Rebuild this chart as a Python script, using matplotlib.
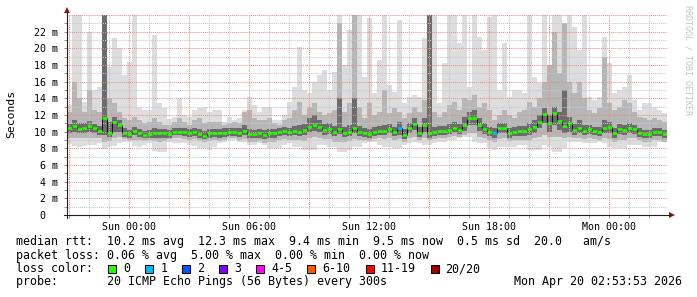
import numpy as np
import matplotlib
matplotlib.use("Agg")
import matplotlib.pyplot as plt
from matplotlib.lines import Line2D
from matplotlib.patches import Polygon, Rectangle

W, H = 697, 297
MONO = "DejaVu Sans Mono"

# hours relative to Sun 00:00, one sample every 15 min
t_start = -3.075
step = 0.25

med = [10.4, 10.7, 10.3, 10.5, 10.7, 10.4, 10.1, 11.6, 9.9, 11.2,
       10.8, 9.8, 9.7, 10.1, 9.8, 9.6, 9.7, 9.8, 9.8, 9.8,
       9.7, 10.0, 10.0, 10.0, 9.8, 10.0, 9.7, 9.5, 9.8, 9.8,
       9.8, 9.9, 10.0, 10.0, 9.9, 10.1, 9.7, 9.7, 9.8, 9.6,
       9.8, 9.8, 10.0, 10.1, 10.0, 10.1, 10.0, 10.2, 10.6, 10.8,
       10.6, 10.2, 10.3, 10.0, 10.3, 9.9, 10.0, 10.5, 10.0, 9.9,
       9.7, 10.0, 10.1, 10.1, 10.3, 10.0, 10.4, 9.6, 10.4, 10.9,
       9.9, 10.8, 9.8, 10.0, 10.1, 10.1, 10.2, 10.5, 10.2, 10.8,
       11.6, 11.7, 10.8, 10.3, 10.0, 9.8, 10.4, 10.4, 9.8, 10.0,
       10.1, 10.1, 10.3, 10.6, 11.2, 12.1, 11.0, 12.2, 11.3, 10.7,
       11.0, 10.2, 10.4, 10.1, 10.3, 10.1, 10.0, 10.5, 10.6, 9.8,
       10.3, 10.2, 10.4, 10.3, 9.9, 9.7, 9.7, 10.0, 10.0, 9.7]

# lightest smoke (max / min ping)
top = [13.2, 24, 24, 13.6, 22.0, 15.0, 15.4, 24, 17.8, 21.2,
       20.0, 16.8, 18.4, 24, 13.0, 12.6, 12.6, 21.6, 13.4, 12.8,
       11.5, 11.8, 14.0, 12.0, 11.8, 12.6, 12.8, 13.0, 12.4, 12.6,
       12.6, 11.2, 11.8, 11.4, 11.6, 12.6, 14.2, 13.2, 12.4, 13.0,
       13.0, 11.4, 11.4, 12.0, 13.6, 15.4, 20.2, 15.0, 14.6, 16.0,
       16.8, 17.4, 15.0, 17.2, 24, 18.0, 22.2, 24, 24, 16.6,
       23.6, 14.6, 18.6, 24, 15.6, 14.8, 23.4, 13.4, 14.2, 14.4,
       14.2, 21.2, 24, 24, 13.4, 18.2, 24, 24, 20.6, 24,
       15.4, 24, 21.4, 19.8, 23.8, 24, 15.0, 20.6, 14.2, 15.0,
       15.0, 14.6, 24, 16.6, 15.8, 24, 17.4, 24, 24, 22.2,
       24, 22.6, 19.8, 24, 14.2, 13.8, 14.2, 21.4, 18.2, 14.6,
       15.0, 15.4, 16.8, 13.8, 12.6, 13.4, 13.4, 13.0, 12.6, 12.2]
bot = [8.5, 8.3, 8.2, 8.3, 8.4, 8.4, 8.6, 7.9, 8.2, 8.3,
       8.6, 8.8, 8.8, 8.3, 8.2, 8.4, 8.6, 7.7, 7.6, 7.6,
       8.8, 8.6, 8.6, 8.6, 8.4, 8.3, 8.0, 8.0, 7.8, 8.2,
       8.6, 8.8, 9.0, 9.0, 8.8, 8.8, 8.4, 8.4, 8.6, 8.4,
       8.0, 8.0, 8.0, 8.4, 8.6, 8.2, 8.2, 7.8, 7.8, 7.8,
       8.4, 8.4, 8.2, 8.2, 7.6, 7.6, 7.8, 8.2, 8.2, 8.6,
       8.8, 8.8, 8.4, 8.2, 8.2, 8.0, 8.0, 8.4, 8.6, 8.8,
       8.6, 8.4, 8.4, 8.6, 8.8, 8.8, 9.0, 9.0, 9.2, 9.4,
       9.4, 8.8, 8.6, 8.6, 8.0, 7.8, 8.2, 8.2, 8.2, 8.2,
       8.4, 8.4, 7.8, 7.8, 7.8, 8.4, 8.2, 7.6, 7.6, 8.0,
       8.8, 8.8, 8.8, 8.6, 8.6, 8.6, 8.8, 8.6, 8.2, 8.0,
       8.0, 8.0, 8.4, 8.4, 8.4, 8.2, 8.2, 8.2, 8.8, 8.8]

# middle smoke
mid_hi = [12.4, 16.0, 14.0, 12.4, 15.0, 12.6, 12.4, 24, 14.0, 13.5,
          12.4, 11.6, 11.4, 11.8, 11.4, 11.0, 11.2, 11.6, 11.2, 10.8,
          10.8, 11.2, 11.6, 11.2, 10.8, 11.4, 11.6, 11.0, 11.2, 11.2,
          11.2, 10.8, 11.0, 11.2, 11.0, 12.4, 12.6, 11.6, 11.4, 11.4,
          11.6, 11.0, 10.8, 11.4, 11.6, 12.6, 13.6, 12.0, 13.0, 13.4,
          12.4, 12.0, 12.2, 12.6, 23.0, 12.4, 13.4, 24, 13.0, 11.6,
          13.4, 12.0, 12.4, 15.0, 12.2, 12.8, 12.4, 11.6, 12.2, 13.0,
          12.4, 13.8, 24, 12.4, 11.8, 12.4, 13.2, 13.6, 12.6, 14.0,
          13.8, 14.4, 13.0, 13.4, 12.6, 11.4, 12.0, 12.6, 12.0, 11.6,
          12.4, 12.6, 13.6, 13.0, 14.0, 16.0, 18.0, 22.0, 17.0, 23.0,
          16.0, 14.6, 16.0, 14.0, 12.6, 12.2, 12.8, 19.0, 13.4, 12.6,
          13.0, 13.8, 13.4, 12.4, 11.8, 11.6, 11.4, 11.6, 11.4, 11.2]
mid_lo = [9.2, 9.3, 9.2, 9.3, 9.3, 9.3, 9.2, 8.8, 8.9, 9.2,
          9.4, 9.1, 9.0, 9.0, 9.0, 8.9, 9.0, 8.9, 8.8, 8.9,
          9.1, 9.2, 9.2, 9.1, 9.0, 9.1, 8.9, 8.8, 8.9, 9.0,
          8.9, 9.0, 9.2, 9.2, 9.0, 9.1, 8.8, 8.8, 8.9, 8.7,
          8.8, 8.8, 9.0, 9.1, 9.0, 9.0, 9.0, 8.9, 9.2, 9.4,
          9.3, 9.1, 9.1, 8.8, 8.8, 8.8, 8.9, 9.1, 9.0, 9.0,
          8.9, 9.1, 9.2, 9.1, 9.2, 9.0, 9.1, 8.8, 9.2, 9.4,
          9.0, 9.3, 9.0, 9.1, 9.2, 9.2, 9.4, 9.5, 9.4, 9.6,
          9.9, 9.8, 9.4, 9.2, 9.0, 8.8, 9.1, 9.2, 8.9, 9.0,
          9.0, 9.0, 9.0, 9.2, 9.4, 9.6, 9.4, 9.4, 9.4, 9.2,
          9.4, 9.2, 9.2, 9.1, 9.2, 9.1, 9.0, 9.2, 9.1, 8.8,
          9.0, 9.0, 9.2, 9.2, 9.0, 8.8, 8.8, 9.0, 9.0, 8.8]

# darkest smoke, close to the median
dark_hi = [10.9, 11.4, 11.0, 11.0, 11.3, 10.9, 10.7, 24, 11.2, 11.8,
           11.4, 10.4, 10.2, 10.6, 10.3, 10.1, 10.2, 10.4, 10.3, 10.3,
           10.2, 10.5, 10.5, 10.5, 10.3, 10.5, 10.3, 10.1, 10.3, 10.3,
           10.3, 10.4, 10.5, 10.5, 10.4, 10.8, 10.3, 10.2, 10.3, 10.2,
           10.3, 10.3, 10.5, 10.6, 10.5, 10.7, 10.8, 10.9, 11.6, 12.0,
           11.4, 10.9, 11.0, 10.7, 14.0, 10.6, 10.8, 14.0, 10.7, 10.4,
           10.3, 10.6, 10.7, 10.8, 10.9, 10.6, 11.2, 10.3, 11.0, 11.6,
           10.6, 11.6, 24, 10.6, 10.7, 10.7, 10.9, 11.2, 10.9, 11.8,
           12.4, 12.6, 11.6, 11.0, 10.6, 10.4, 11.0, 11.0, 10.4, 10.6,
           10.7, 10.7, 11.0, 11.4, 12.0, 12.8, 12.0, 13.0, 12.4, 15.0,
           11.8, 10.9, 11.4, 10.8, 10.8, 10.6, 10.6, 11.4, 11.2, 10.4,
           10.9, 10.8, 11.0, 10.8, 10.4, 10.2, 10.2, 10.5, 10.4, 10.2]
dark_lo = [9.8, 10.0, 9.8, 9.9, 10.0, 9.8, 9.6, 9.6, 9.4, 10.0,
           10.0, 9.4, 9.3, 9.6, 9.4, 9.2, 9.3, 9.3, 9.3, 9.3,
           9.3, 9.6, 9.6, 9.5, 9.4, 9.5, 9.3, 9.1, 9.3, 9.4,
           9.3, 9.4, 9.5, 9.5, 9.4, 9.6, 9.2, 9.2, 9.3, 9.1,
           9.3, 9.3, 9.5, 9.6, 9.5, 9.6, 9.5, 9.6, 10.0, 10.1,
           10.0, 9.6, 9.7, 9.5, 9.7, 9.4, 9.5, 9.8, 9.5, 9.4,
           9.2, 9.5, 9.6, 9.6, 9.8, 9.5, 9.6, 9.1, 9.8, 10.2,
           9.4, 10.0, 9.3, 9.5, 9.6, 9.6, 9.7, 10.0, 9.7, 10.1,
           10.8, 10.8, 10.1, 9.7, 9.5, 9.2, 9.8, 9.8, 9.3, 9.5,
           9.5, 9.5, 9.6, 9.9, 10.4, 11.0, 10.0, 10.8, 10.2, 9.8,
           10.0, 9.6, 9.8, 9.6, 9.7, 9.6, 9.5, 9.9, 9.9, 9.3,
           9.7, 9.6, 9.8, 9.7, 9.4, 9.2, 9.2, 9.5, 9.5, 9.2]

# samples with packet loss (index, lost pings)
loss_idx = [66, 85]
loss_cnt = [1, 1]

loss_names = ["0", "1", "2", "3", "4-5", "6-10", "11-19", "20/20"]
loss_colors = ["#26ff00", "#00b8ff", "#0059ff", "#7e00ff",
               "#ff00ff", "#ff5500", "#ff0000", "#a10000"]

xtick_pos = [0, 6, 12, 18, 24]
xtick_lab = ["Sun 00:00", "Sun 06:00", "Sun 12:00", "Sun 18:00", "Mon 00:00"]
ytick_pos = list(range(0, 24, 2))

for arr in (med, top, bot, mid_hi, mid_lo, dark_hi, dark_lo):
    assert len(arr) == 120, len(arr)


def fx(x):
    return x / W


def fy(y):
    return 1 - y / H


fig = plt.figure(figsize=(W / 100, H / 100), dpi=100)
fig.patch.set_facecolor("white")
ax = fig.add_axes([fx(67), fy(215), 600 / W, 200 / H])
ax.set_facecolor("white")

n = len(med)
edges = t_start + step * np.arange(n + 1)


def ext(a):
    a = np.asarray(a, float)
    return np.append(a, a[-1])


ax.fill_between(edges, ext(bot), ext(top), step="post", color="#dddddd", lw=0, zorder=1)
ax.fill_between(edges, ext(mid_lo), ext(mid_hi), step="post", color="#b6b6b6", lw=0, zorder=1.1)
ax.fill_between(edges, ext(dark_lo), ext(dark_hi), step="post", color="#6c6c6c", lw=0, zorder=1.2)

# median: black connecting line + loss-coloured segments
ax.step(edges, ext(med), where="post", color="#101010", lw=0.7, zorder=3)
seg_col = [loss_colors[0]] * n
for i, c in zip(loss_idx, loss_cnt):
    seg_col[i] = loss_colors[c]
ax.hlines(med, edges[:-1], edges[1:], colors=seg_col, lw=1.8, zorder=4)

ax.set_xlim(t_start, t_start + 30)
ax.set_ylim(0, 24)

# grid drawn on top of the smoke like rrdtool does
dot = (0, (1, 1))
for h in np.arange(-3, 27, 1):
    if h <= t_start:
        continue
    major = (h % 3 == 0)
    ax.axvline(h, color="#e89090" if major else "#c8c8c8", lw=0.75, ls=dot, zorder=2)
for v in range(1, 25):
    major = (v % 2 == 0)
    ax.axhline(v, color="#e89090" if major else "#c8c8c8", lw=0.75, ls=dot, zorder=2)

for s in ax.spines.values():
    s.set_visible(False)

ax.set_xticks(xtick_pos)
ax.set_xticklabels(xtick_lab, fontfamily=MONO, fontsize=7.2)
ax.set_xticks(np.arange(-3, 27, 1), minor=True)
ax.set_yticks(ytick_pos)
ax.set_yticklabels(["0  "] + [f"{v} m" for v in ytick_pos[1:]], fontfamily=MONO, fontsize=7.2)
ax.set_yticks(range(1, 24, 2), minor=True)
ax.tick_params(axis="both", which="both", length=2.2, width=0.7, color="#909090",
               direction="out", pad=4)
ax.tick_params(axis="x", which="major", pad=3)

# axes with arrows
axis_col = "#202020"
arrow_col = "#8b1a1a"
fig.add_artist(Line2D([fx(67), fx(67)], [fy(218), fy(12)], color=axis_col, lw=0.8))
fig.add_artist(Line2D([fx(64), fx(671)], [fy(215), fy(215)], color=axis_col, lw=0.8))
fig.add_artist(Polygon([(fx(64), fy(13)), (fx(70), fy(13)), (fx(67), fy(7))],
                       closed=True, color=arrow_col, lw=0))
fig.add_artist(Polygon([(fx(669), fy(212)), (fx(669), fy(218)), (fx(675), fy(215))],
                       closed=True, color=arrow_col, lw=0))

fig.text(fx(11), fy(114), "Seconds", rotation=90, ha="center", va="center",
         fontfamily=MONO, fontsize=8.2)
fig.text(fx(688), fy(5), "RRDTOOL / TOBI OETIKER", rotation=270, ha="center", va="top",
         fontfamily=MONO, fontsize=6, color="#c4c4c4")

# legend block
fs = 8.4
cw = 7.02
fig.text(fx(16), fy(241), "median rtt:  10.2 ms avg  12.3 ms max  9.4 ms min  9.5 ms now  0.5 ms sd  20.0   am/s",
         fontfamily=MONO, fontsize=fs, va="center")
fig.text(fx(16), fy(255.5), "packet loss: 0.06 % avg  5.00 % max  0.00 % min  0.00 % now",
         fontfamily=MONO, fontsize=fs, va="center")
fig.text(fx(16), fy(268.5), "loss color:", fontfamily=MONO, fontsize=fs, va="center")
bx = 108.3
for name, col in zip(loss_names, loss_colors):
    fig.add_artist(Rectangle((fx(bx), fy(272.5)), 8 / W, 8 / H, facecolor=col,
                             edgecolor="black", lw=0.7))
    fig.text(fx(bx + 15), fy(268.5), name, fontfamily=MONO, fontsize=fs, va="center")
    bx += 16 + cw * len(name) + 14
fig.text(fx(16), fy(282), "probe:       20 ICMP Echo Pings (56 Bytes) every 300s",
         fontfamily=MONO, fontsize=fs, va="center")
fig.text(fx(682), fy(282), "Mon Apr 20 02:53:53 2026", fontfamily=MONO, fontsize=fs,
         va="center", ha="right")

fig.savefig("out.png", dpi=100, facecolor="white")
